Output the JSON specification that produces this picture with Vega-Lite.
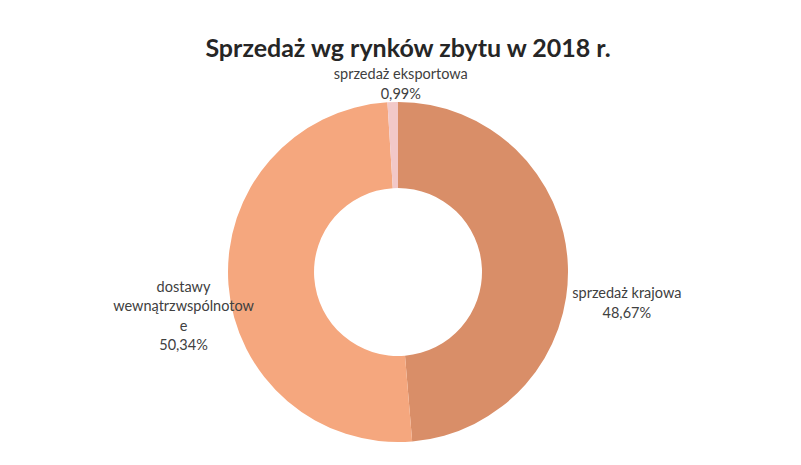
{
  "$schema": "https://vega.github.io/schema/vega-lite/v6.json",
  "width": 796,
  "height": 340,
  "autosize": "none",
  "padding": {"left": 0, "top": 102, "right": 5, "bottom": 23},
  "background": "#ffffff",
  "title": {
    "text": "Sprzedaż wg rynków zbytu w 2018 r.",
    "font": "Lato",
    "fontSize": 25,
    "fontWeight": "bold",
    "color": "#262626",
    "anchor": "middle",
    "frame": "group",
    "baseline": "alphabetic",
    "offset": -17,
    "dx": 10
  },
  "data": {
    "values": [
      {"cat": "sprzedaż krajowa", "value": 48.67, "order": 1, "label": "sprzedaż krajowa\n48,67%"},
      {"cat": "dostawy wewnątrzwspólnotowe", "value": 50.34, "order": 2, "label": "dostawy\nwewnątrzwspólnotow\ne\n50,34%"},
      {"cat": "sprzedaż eksportowa", "value": 0.99, "order": 3, "label": "sprzedaż eksportowa\n0,99%"}
    ]
  },
  "encoding": {
    "theta": {"field": "value", "type": "quantitative", "stack": true},
    "order": {"field": "order", "type": "quantitative"}
  },
  "layer": [
    {
      "mark": {"type": "arc", "outerRadius": 170, "innerRadius": 84},
      "encoding": {
        "color": {
          "field": "cat",
          "type": "nominal",
          "legend": null,
          "scale": {
            "domain": ["sprzedaż krajowa", "dostawy wewnątrzwspólnotowe", "sprzedaż eksportowa"],
            "range": ["#D98E68", "#F5A77E", "#F2C8C8"]
          }
        }
      }
    },
    {
      "mark": {"type": "text", "radius": 200, "dx": 29, "dy": 30, "font": "Lato", "fontSize": 14.5, "color": "#404040", "lineBreak": "\n", "lineHeight": 20, "align": "center", "baseline": "middle"},
      "encoding": {
        "text": {"condition": {"test": "datum.order == 1", "field": "label"}, "value": ""}
      }
    },
    {
      "mark": {"type": "text", "radius": 200, "dx": -15, "dy": 1, "font": "Lato", "fontSize": 14.5, "color": "#404040", "lineBreak": "\n", "lineHeight": 19.5, "align": "center", "baseline": "middle"},
      "encoding": {
        "text": {"condition": {"test": "datum.order == 2", "field": "label"}, "value": ""}
      }
    },
    {
      "mark": {"type": "text", "radius": 200, "dx": 9, "dy": 3, "font": "Lato", "fontSize": 14.5, "color": "#404040", "lineBreak": "\n", "lineHeight": 20, "align": "center", "baseline": "middle"},
      "encoding": {
        "text": {"condition": {"test": "datum.order == 3", "field": "label"}, "value": ""}
      }
    }
  ]
}
